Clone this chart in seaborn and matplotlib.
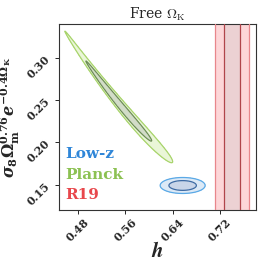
import numpy as np
import matplotlib
matplotlib.use("Agg")
import matplotlib.pyplot as plt
import seaborn as sns

# contour summaries
planck_h = [0.549, 0.0367]            # centre, sigma along the degeneracy
planck_curve = [0.246, -0.846, 1.0]   # y = a + b*d + c*d^2, d = h - centre
planck_width = [0.0036, 0.016]        # transverse sigma = w0 + w1*d
lowz_h = [0.657, 0.0153]
lowz_y = [0.149, 0.0038]
r19_h = [0.7403, 0.0142]
labels = ["Low-z", "Planck", "R19"]
label_colors = ["#2f86d8", "#8cc152", "#e8474c"]
xticks = [0.48, 0.56, 0.64, 0.72]
yticks = [0.15, 0.20, 0.25, 0.30]

sns.set_style("ticks")
plt.rcParams["font.family"] = ["DejaVu Serif"]
plt.rcParams["mathtext.fontset"] = "custom"
plt.rcParams["mathtext.rm"] = "DejaVu Serif:bold"
plt.rcParams["mathtext.it"] = "DejaVu Serif:italic:bold"
plt.rcParams["mathtext.bf"] = "DejaVu Serif:bold"

fig = plt.figure(figsize=(2.66, 2.66), dpi=100)
ax = fig.add_axes([59 / 266, 56 / 266, 197 / 266, 186 / 266])

h = np.linspace(0.44, 0.79, 600)
y = np.linspace(0.11, 0.35, 600)
H, Y = np.meshgrid(h, y)

# Planck banana
d = H - planck_h[0]
a, b, c = planck_curve
sv = np.clip(planck_width[0] + planck_width[1] * d, 0.0008, None)
v = Y - (a + b * d + c * d ** 2)
chi_p = (d / planck_h[1]) ** 2 + (v / sv) ** 2
ax.contourf(H, Y, chi_p, levels=[0, 2.30], colors=["#d2dcc8"], zorder=3)
ax.contourf(H, Y, chi_p, levels=[2.30, 6.17], colors=["#eaf6d8"], zorder=3)
ax.contour(H, Y, chi_p, levels=[2.30], colors=["#6c8c55"], linewidths=0.9, zorder=4)
ax.contour(H, Y, chi_p, levels=[6.17], colors=["#a8d46c"], linewidths=0.9, zorder=4)

# Low-z ellipse
chi_l = ((H - lowz_h[0]) / lowz_h[1]) ** 2 + ((Y - lowz_y[0]) / lowz_y[1]) ** 2
ax.contourf(H, Y, chi_l, levels=[0, 2.30], colors=["#c9d5e8"], zorder=3)
ax.contourf(H, Y, chi_l, levels=[2.30, 6.17], colors=["#dce9f6"], zorder=3)
ax.contour(H, Y, chi_l, levels=[2.30], colors=["#3d6aa3"], linewidths=0.9, zorder=4)
ax.contour(H, Y, chi_l, levels=[6.17], colors=["#5aa9e6"], linewidths=0.9, zorder=4)

# R19 band
m, s = r19_h
ax.axvspan(m - 2 * s, m + 2 * s, color="#fdd6d8", zorder=2, lw=0)
ax.axvspan(m - s, m + s, color="#ecd1d3", zorder=2, lw=0)
for xv in [m - 2 * s, m + 2 * s]:
    ax.axvline(xv, color="#e8868b", lw=0.9, zorder=3)
for xv in [m - s, m + s]:
    ax.axvline(xv, color="#b0454b", lw=0.9, zorder=3)

ax.set_xlim(0.448, 0.781)
ax.set_ylim(0.120, 0.340)
ax.set_xticks(xticks)
ax.set_yticks(yticks)
ax.set_xticklabels([f"{t:.2f}" for t in xticks], rotation=45, fontsize=8, fontweight="bold")
ax.set_yticklabels([f"{t:.2f}" for t in yticks], rotation=45, fontsize=8, fontweight="bold")
ax.tick_params(length=3, width=0.7, pad=2)
for sp in ax.spines.values():
    sp.set_linewidth(0.8)
    sp.set_color("#333333")

ax.set_xlabel(r"$\boldsymbol{h}$", fontsize=15, labelpad=-2, math_fontfamily="cm")
ax.set_ylabel(r"$\sigma_8\Omega_{\rm m}^{0.76}e^{-0.4\Omega_{\rm K}}$", fontsize=11.5, labelpad=2)
ax.set_title(r"Free $\Omega_{\rm K}$", fontsize=10, family="serif", pad=4, math_fontfamily="cm")

for i, (lab, col) in enumerate(zip(labels, label_colors)):
    ax.text(0.03, 0.30 - i * 0.11, lab, color=col, fontsize=11, fontweight="bold",
            transform=ax.transAxes, va="center", ha="left", zorder=6)

fig.savefig("out.png", dpi=100)
